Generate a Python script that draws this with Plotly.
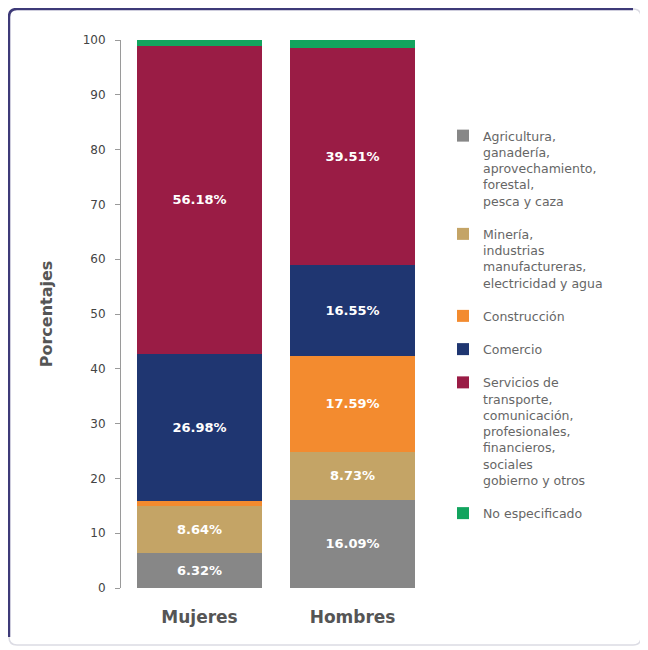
import plotly.graph_objects as go

categories = ["Mujeres", "Hombres"]
series_names = [
    "Agricultura,<br>ganadería,<br>aprovechamiento,<br>forestal,<br>pesca y caza",
    "Minería,<br>industrias<br>manufactureras,<br>electricidad y agua",
    "Construcción",
    "Comercio",
    "Servicios de<br>transporte,<br>comunicación,<br>profesionales,<br>financieros,<br>sociales<br>gobierno y otros",
    "No especificado",
]
agricultura = [6.32, 16.09]
mineria = [8.64, 8.73]
construccion = [0.85, 17.59]
comercio = [26.98, 16.55]
servicios = [56.18, 39.51]
no_especificado = [1.03, 1.53]
series_values = [agricultura, mineria, construccion, comercio, servicios, no_especificado]
bar_labels = [
    ["6.32%", "16.09%"],
    ["8.64%", "8.73%"],
    ["", "17.59%"],
    ["26.98%", "16.55%"],
    ["56.18%", "39.51%"],
    ["", ""],
]
colors = ["#878787", "#c4a466", "#f38b2f", "#1f3671", "#9a1c45", "#12a45e"]
y_ticks = [0, 10, 20, 30, 40, 50, 60, 70, 80, 90, 100]

FONT = "DejaVu Sans, Verdana, sans-serif"
x_pos = list(range(len(categories)))

# the page body adds an 8px offset; work in reference page pixels
OFF = 8
FW, FH = 648 - OFF, 650 - OFF

fig = go.Figure()
for name, vals, labels, col in zip(series_names, series_values, bar_labels, colors):
    fig.add_trace(go.Bar(
        x=x_pos, y=vals, name=name, text=labels,
        marker=dict(color=col, line=dict(width=0)),
        width=0.817,
        textposition="inside", insidetextanchor="middle", textangle=0,
        constraintext="none",
        textfont=dict(color="white", size=13, family=FONT, weight="bold"),
        legendgroup=name,
        hoverinfo="skip",
    ))

# plot area geometry (reference page pixels)
L, R, T, B = 121, 415, 40, 588
W, H = R - L, B - T

def px(x):
    return (x - L) / W

def py(y):
    return (B - y) / H

r = 8
x0, x1, y0, y1 = 9, 641, 9, 645
dark = (f"M {px(x0)} {py(y1 - r)} L {px(x0)} {py(y0 + r)} "
        f"Q {px(x0)} {py(y0)} {px(x0 + r)} {py(y0)} L {px(x1 - r)} {py(y0)}")
light = (f"M {px(x1 - r)} {py(y0)} Q {px(x1)} {py(y0)} {px(x1)} {py(y0 + r)} "
         f"L {px(x1)} {py(y1 - r)} Q {px(x1)} {py(y1)} {px(x1 - r)} {py(y1)} "
         f"L {px(x0 + r)} {py(y1)} Q {px(x0)} {py(y1)} {px(x0)} {py(y1 - r)}")

fig.update_layout(
    width=FW, height=FH,
    margin=dict(l=L - OFF, r=648 - R, t=T - OFF, b=650 - B),
    barmode="stack",
    paper_bgcolor="white", plot_bgcolor="white",
    font=dict(family=FONT, color="#555555"),
    showlegend=True,
    legend=dict(
        xref="container", yref="container",
        x=(443 - OFF) / FW, y=1 - (121 - OFF) / FH, xanchor="left", yanchor="top",
        traceorder="grouped", tracegroupgap=14,
        valign="top", itemwidth=30, maxheight=600,
        font=dict(size=12.5, color="#666666", family=FONT),
        bgcolor="rgba(0,0,0,0)",
    ),
    xaxis=dict(
        range=[-0.513, 1.408], tickvals=x_pos, ticktext=categories,
        showline=False, showgrid=False, zeroline=False, ticks="",
        ticklabelstandoff=17,
        tickfont=dict(size=17, color="#555555", family=FONT, weight="bold"),
    ),
    yaxis=dict(
        range=[0, 100], tickvals=y_ticks, showgrid=False, zeroline=False,
        showline=True, linecolor="#9a9a9a", linewidth=1,
        ticks="outside", ticklen=5, tickcolor="#9a9a9a",
        ticklabelstandoff=7,
        tickfont=dict(size=12, color="#444444", family=FONT),
        title=dict(text="Porcentajes", standoff=26,
                   font=dict(size=16, color="#555555", family=FONT, weight="bold")),
    ),
    shapes=[
        dict(type="path", xref="paper", yref="paper", path=dark,
             line=dict(color="#3e3a78", width=2.5), layer="above"),
        dict(type="path", xref="paper", yref="paper", path=light,
             line=dict(color="#dcdce4", width=1.5), layer="above"),
    ],
)

fig.write_html("out.html")
